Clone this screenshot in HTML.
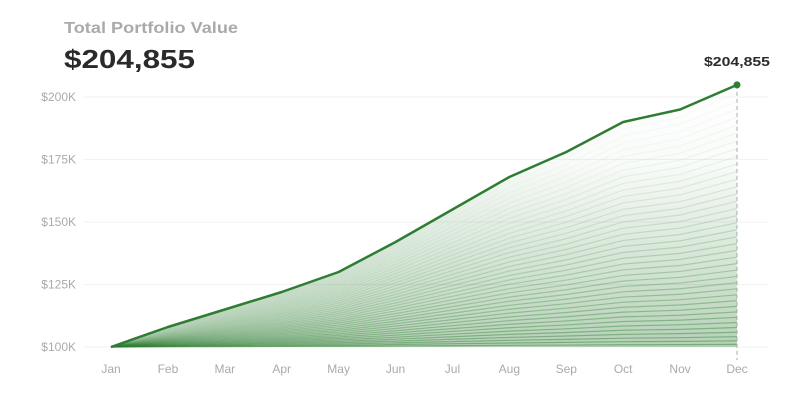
<!DOCTYPE html><html><head><style>body{margin:0;background:#fff;font-family:"Liberation Sans",sans-serif}</style></head><body>
<svg id="s" width="800" height="400" xmlns="http://www.w3.org/2000/svg" font-family="Liberation Sans, sans-serif">
<defs><linearGradient id="g" x1="0" y1="0" x2="0" y2="1"><stop offset="0" stop-color="#2e7d32" stop-opacity="0"/><stop offset="0.3" stop-color="#2e7d32" stop-opacity="0.03"/><stop offset="1" stop-color="#2e7d32" stop-opacity="0.35"/></linearGradient></defs>
<text x="64" y="33" font-size="16" font-weight="bold" fill="#aaa" textLength="174" lengthAdjust="spacingAndGlyphs">Total Portfolio Value</text>
<text x="64" y="68" font-size="26" font-weight="bold" fill="#2a2a2a" textLength="131" lengthAdjust="spacingAndGlyphs">$204,855</text>
<g id="grid" font-size="12" fill="#aaa"></g>
<g id="lines"></g>
</svg>
<script>
const s=document.getElementById('s'),NS='http://www.w3.org/2000/svg';
function el(t,a,p){const e=document.createElementNS(NS,t);for(const k in a)e.setAttribute(k,a[k]);(p||s).appendChild(e);return e}
const v=[100,108,115,122,130,142,155,168,178,190,195,204.855];
const m=['Jan','Feb','Mar','Apr','May','Jun','Jul','Aug','Sep','Oct','Nov','Dec'];
const X=i=>111+i*(737-111)/11,Y=k=>347-(k-100)*2.5;
const grid=document.getElementById('grid'),L=document.getElementById('lines');
for(let k=100;k<=200;k+=25){el('line',{x1:84,x2:768,y1:Y(k),y2:Y(k),stroke:'#f2f2f2'},grid);const t=el('text',{x:76,y:Y(k)+4,'text-anchor':'end'},grid);t.textContent='$'+k+'K';}
m.forEach((n,i)=>{const t=el('text',{x:X(i),y:373,'text-anchor':'middle'},grid);t.textContent=n;});
let d='M'+X(0)+','+Y(100);v.forEach((k,i)=>d+=' L'+X(i)+','+Y(k));
el('path',{d:d+' L'+X(11)+','+Y(100)+' Z',fill:'url(#g)'},L);
const N=40;for(let j=1;j<N;j++){const t=Math.pow(j/N,1.25);let p='';v.forEach((k,i)=>p+=(i?' L':'M')+X(i)+','+Y(100+t*(k-100)));el('path',{d:p,fill:'none',stroke:'#2e7d32','stroke-width':1.2,'stroke-opacity':0.45*Math.pow(1-t,1.5)+0.02},L);}
el('line',{x1:X(11),x2:X(11),y1:Y(204.855),y2:360,stroke:'#aaa','stroke-dasharray':'4,3'},L);
el('path',{d:d,fill:'none',stroke:'#2e7d32','stroke-width':2.5,'stroke-linejoin':'round'},L);
el('circle',{cx:X(11),cy:Y(204.855),r:3.5,fill:'#2e7d32'},L);
const t=el('text',{x:704,y:66,'font-size':13,'font-weight':'bold',fill:'#2a2a2a',textLength:66,lengthAdjust:'spacingAndGlyphs'},L);t.textContent='$204,855';
</script></body></html>
